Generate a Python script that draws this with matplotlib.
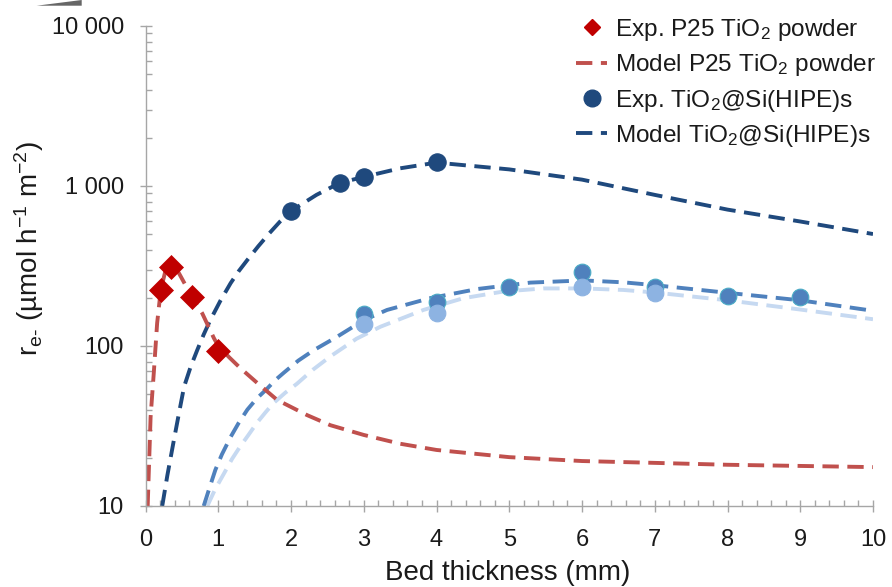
import matplotlib
matplotlib.use("Agg")
import matplotlib.pyplot as plt
from matplotlib.lines import Line2D
from matplotlib.patches import Polygon
from matplotlib.ticker import FixedLocator, NullFormatter, LogLocator

plt.rcParams['font.family'] = ['Liberation Sans', 'DejaVu Sans']
plt.rcParams['mathtext.fontset'] = 'custom'
plt.rcParams['mathtext.rm'] = 'Liberation Sans'
plt.rcParams['mathtext.it'] = 'Liberation Sans:italic'
plt.rcParams['mathtext.bf'] = 'Liberation Sans:bold'

# ---------------- data ----------------
# Experimental P25 TiO2 powder
p25_x = [0.21, 0.35, 0.64, 0.99]
p25_y = [224, 313, 202, 93]

# Model P25 TiO2 powder
p25_model_x = [0.03, 0.07, 0.114, 0.16, 0.21, 0.27, 0.33, 0.40, 0.46, 0.55, 0.64, 0.78,
               0.94, 1.0, 1.15, 1.3, 1.55, 1.81, 2.22, 2.54, 3.0, 3.5, 4.0, 5.0, 6.0,
               7.0, 8.0, 9.0, 10.0]
p25_model_y = [10, 36, 68, 139, 224, 290, 312, 305, 285, 240, 202, 160,
               112, 100, 85, 73, 58, 46, 37, 32, 27.8, 24.5, 22.4, 20.2, 19.1,
               18.6, 18.1, 17.8, 17.5]

# Experimental TiO2@Si(HIPE)s (dark)
hipe_x = [2.0, 2.67, 3.0, 4.0]
hipe_y = [698, 1045, 1138, 1413]

# Model TiO2@Si(HIPE)s (dark)
hipe_model_x = [0.23, 0.30, 0.39, 0.46, 0.53, 0.62, 0.71, 0.80, 0.89, 1.03, 1.17, 1.28,
                1.4, 1.55, 1.7, 1.85, 2.0, 2.35, 2.67, 3.0, 3.5, 4.0, 5.0, 6.0, 7.0,
                8.0, 9.0, 10.0]
hipe_model_y = [10, 15.5, 25.8, 38, 55.6, 74, 94, 118, 145, 192, 247, 293,
                345, 420, 505, 600, 698, 880, 1045, 1140, 1290, 1400, 1270, 1096, 880,
                712, 600, 501]

# Second series (medium blue)
med_x = [3, 4, 5, 6, 7, 8, 9]
med_y = [158, 189, 235, 289, 234, 204, 201]
med_model_x = [0.8, 0.88, 0.96, 1.05, 1.17, 1.28, 1.4, 1.53, 1.67, 1.78, 1.9, 2.1,
               2.31, 2.63, 3.0, 3.32, 3.91, 4.56, 5.29, 6.02, 6.57, 7.0, 8.0, 9.0, 10.0]
med_model_y = [10, 13, 16.8, 21, 27, 33, 40, 47, 54, 61, 68, 81,
               94, 114, 145, 168, 199, 227, 249, 257, 250, 240, 215, 193, 166]

# Third series (light blue)
light_x = [3, 4, 6, 7]
light_y = [137, 160, 235, 215]
light_model_x = [0.85, 0.96, 1.08, 1.19, 1.3, 1.42, 1.53, 1.65, 1.76, 1.92, 2.08, 2.3,
                 2.54, 2.9, 3.23, 3.82, 4.37, 4.92, 5.47, 6.02, 6.57, 7.0, 8.0, 9.0, 10.0]
light_model_y = [10, 12.8, 16, 19.7, 23.5, 28, 33, 38.5, 44, 51, 58, 71,
                 86, 111, 132, 168, 199, 219, 229, 229, 224, 216, 193, 169, 147]

yticks = [10, 100, 1000, 10000]
ytick_labels = ['10', '100', '1 000', '10 000']
xticks = list(range(0, 11))

legend_labels = ['Exp. P25 TiO$_2$ powder', 'Model P25 TiO$_2$ powder',
                 'Exp. TiO$_2$@Si(HIPE)s', 'Model TiO$_2$@Si(HIPE)s']

# ---------------- style ----------------
RED_PT = '#C00000'
RED_LN = '#C0504D'
DARK = '#1F497D'
MED = '#4F81BD'
MED_EDGE = '#4BACC6'
LIGHT_PT = '#8DB3E2'
LIGHT_LN = '#C6D9F1'
AXIS_GREY = '#A6A6A6'
DASH = (4.2, 2.2)
LW = 2.8

fig = plt.figure(figsize=(8.92, 5.87), dpi=100)
W, H = 892, 587
ax = fig.add_axes([145.5 / W, (H - 506) / H, (873 - 145.5) / W, (506 - 26) / H])
ax.set_yscale('log')
ax.set_xlim(0, 10)
ax.set_ylim(10, 10000)

# model lines
ax.plot(light_model_x, light_model_y, color=LIGHT_LN, lw=LW, dashes=DASH, zorder=2)
ax.plot(med_model_x, med_model_y, color=MED, lw=LW, dashes=DASH, zorder=2.1)
ax.plot(hipe_model_x, hipe_model_y, color=DARK, lw=LW, dashes=DASH, zorder=2.2)
ax.plot(p25_model_x, p25_model_y, color=RED_LN, lw=LW, dashes=DASH, zorder=2.3)

# experimental points
ax.plot(med_x, med_y, 'o', ms=12, mfc=MED, mec=MED_EDGE, mew=0.8, zorder=3, ls='none')
ax.plot(light_x, light_y, 'o', ms=12, mfc=LIGHT_PT, mec=LIGHT_PT, mew=0.8, zorder=3.1, ls='none')
ax.plot(hipe_x, hipe_y, 'o', ms=12.5, mfc=DARK, mec=DARK, mew=0.8, zorder=3.2, ls='none')
ax.plot(p25_x, p25_y, 'D', ms=12.5, mfc=RED_PT, mec=RED_PT, mew=0.5, zorder=3.3, ls='none')

# axes styling
for s in ['top', 'right']:
    ax.spines[s].set_visible(False)
for s in ['left', 'bottom']:
    ax.spines[s].set_color(AXIS_GREY)
    ax.spines[s].set_linewidth(1.0)

ax.yaxis.set_major_locator(FixedLocator(yticks))
ax.set_yticklabels(ytick_labels)
ax.yaxis.set_minor_locator(LogLocator(base=10, subs=range(2, 10), numticks=20))
ax.yaxis.set_minor_formatter(NullFormatter())
ax.set_xticks(xticks)
ax.set_xticklabels([str(v) for v in xticks])
ax.set_xticks([v / 5 for v in range(0, 51) if v % 5], minor=True)

ax.tick_params(axis='both', which='major', direction='inout', length=9, width=1.0,
               color=AXIS_GREY, labelsize=17, labelcolor='#1a1a1a')
ax.tick_params(axis='both', which='minor', direction='in', length=4.5, width=1.0,
               color=AXIS_GREY)
ax.tick_params(axis='y', which='major', pad=11)
ax.tick_params(axis='x', which='major', pad=12)

# axis labels
fig.text(508 / W, 1 - 573 / H, 'Bed thickness (mm)', ha='center', va='center',
         fontsize=20, color='#1a1a1a')
fig.text(29 / W, 1 - 248 / H,
         r'r$_{\mathregular{e\text{-}}}$ (µmol h$^{\mathregular{-1}}$ m$^{\mathregular{-2}}$)',
         ha='center', va='center', rotation=90, fontsize=20, color='#1a1a1a')

# legend
handles = [
    Line2D([], [], ls='none', marker='D', ms=8.5, mfc=RED_PT, mec=RED_PT),
    Line2D([], [], color=RED_LN, lw=LW, dashes=DASH),
    Line2D([], [], ls='none', marker='o', ms=12, mfc=DARK, mec=DARK),
    Line2D([], [], color=DARK, lw=LW, dashes=DASH),
]
leg = fig.legend(handles, legend_labels, loc='upper right',
                 bbox_to_anchor=(876 / W, 1 - 17 / H), frameon=False,
                 fontsize=17.6, handlelength=1.3, handletextpad=0.3,
                 labelspacing=0.38, borderpad=0.0, borderaxespad=0.0)
for t in leg.get_texts():
    t.set_color('#1a1a1a')

# small grey wedge in the top-left corner
fig.patches.append(Polygon([(36.7 / W, 1 - 5.7 / H), (81.7 / W, 1.0), (81.7 / W, 1 - 5.7 / H)],
                           closed=True, transform=fig.transFigure, facecolor='#666666',
                           edgecolor='none'))

fig.savefig('out.png', dpi=100)
